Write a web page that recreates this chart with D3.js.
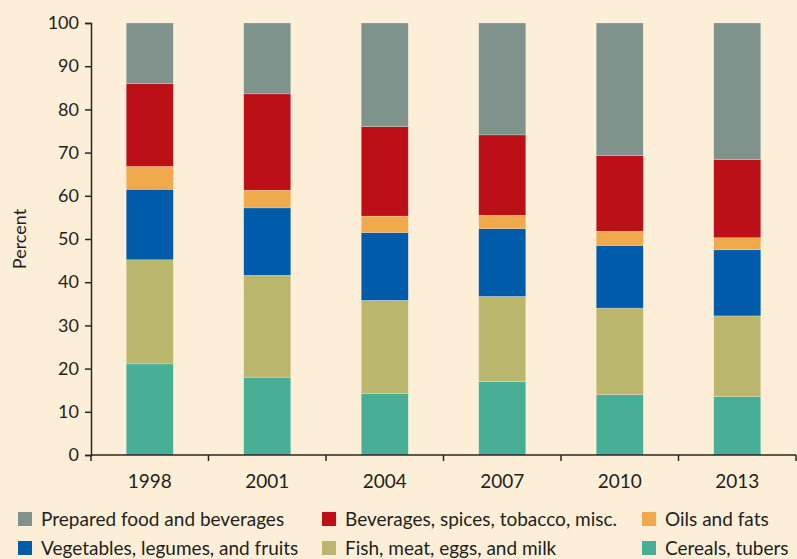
<!DOCTYPE html>
<html>
<head>
<meta charset="utf-8">
<script src="https://cdn.jsdelivr.net/npm/d3@7"></script>
<style>
  body { margin: 0; background: #fdeed7; }
  svg { display: block; }
  text { font-family: "Lato", "Open Sans", sans-serif; fill: #231f20; }
</style>
</head>
<body>
<svg width="797" height="559"></svg>
<script>
// years on the x axis
var years = ["1998", "2001", "2004", "2007", "2010", "2013"];

// series, bottom to top
var cereals    = [21.1, 18.0, 14.2, 17.0, 14.0, 13.5];
var fish       = [24.1, 23.6, 21.6, 19.7, 20.0, 18.7];
var vegetables = [16.3, 15.6, 15.7, 15.7, 14.5, 15.3];
var oils       = [5.3, 4.1, 3.8, 3.1, 3.3, 2.8];
var beverages  = [19.2, 22.3, 20.7, 18.6, 17.5, 18.1];
var prepared   = [14.0, 16.4, 24.0, 25.9, 30.7, 31.6];

var yTicks = [0, 10, 20, 30, 40, 50, 60, 70, 80, 90, 100];

var series = [
  {key: "cereals", name: "Cereals, tubers", values: cereals, color: "#49ae96"},
  {key: "fish", name: "Fish, meat, eggs, and milk", values: fish, color: "#bbb66d"},
  {key: "veg", name: "Vegetables, legumes, and fruits", values: vegetables, color: "#005baa"},
  {key: "oils", name: "Oils and fats", values: oils, color: "#f0a94b"},
  {key: "bev", name: "Beverages, spices, tobacco, misc.", values: beverages, color: "#bd0f18"},
  {key: "prep", name: "Prepared food and beverages", values: prepared, color: "#7f928c"}
];

var svg = d3.select("svg");

var x = d3.scaleBand()
    .domain(years)
    .range([91, 796])
    .padding(0);

var y = d3.scaleLinear()
    .domain([0, 100])
    .range([455, 23]);

// build rows for stacking
var rows = years.map(function(yr, i) {
  var r = {year: yr};
  series.forEach(function(s) { r[s.key] = s.values[i]; });
  return r;
});

var stack = d3.stack().keys(series.map(function(s) { return s.key; }));
var stacked = stack(rows);

var barW = x.bandwidth() * 0.4;

svg.append("g").selectAll("g")
  .data(stacked)
  .enter().append("g")
    .attr("fill", function(d, i) { return series[i].color; })
  .selectAll("rect")
  .data(function(d) { return d; })
  .enter().append("rect")
    .attr("x", function(d) { return x(d.data.year) + (x.bandwidth() - barW) / 2; })
    .attr("y", function(d) { return y(d[1]); })
    .attr("width", barW)
    .attr("height", function(d) { return y(d[0]) - y(d[1]); })
    .attr("stroke", "rgba(255,255,255,0.35)")
    .attr("stroke-width", 0.6);

// y axis
var yAxis = svg.append("g")
    .attr("transform", "translate(91,0)")
    .call(d3.axisLeft(y).tickValues(yTicks).tickSize(6).tickPadding(6));
yAxis.select(".domain").attr("stroke", "#2b2522").attr("stroke-width", 1.5);
yAxis.selectAll(".tick line").attr("stroke", "#2b2522").attr("stroke-width", 1.5);
yAxis.selectAll(".tick text")
    .style("font-size", "18px")
    .style("font-family", "Lato, sans-serif")
    .attr("fill", "#231f20");

// x axis: ticks at band boundaries, labels centred
var xg = svg.append("g").attr("transform", "translate(0,455)");
xg.append("line")
    .attr("x1", 91).attr("x2", 796)
    .attr("stroke", "#2b2522").attr("stroke-width", 1.5);
var bounds = years.map(function(yr) { return x(yr); }).concat([x.range()[1]]);
xg.selectAll(".xt").data(bounds).enter().append("line")
    .attr("x1", function(d) { return d; })
    .attr("x2", function(d) { return d; })
    .attr("y1", 0).attr("y2", 6)
    .attr("stroke", "#2b2522").attr("stroke-width", 1.5);
xg.selectAll(".xl").data(years).enter().append("text")
    .attr("x", function(d) { return x(d) + x.bandwidth() / 2; })
    .attr("y", 33)
    .attr("text-anchor", "middle")
    .style("font-size", "19px")
    .text(function(d) { return d; });

// y label
svg.append("text")
    .attr("transform", "translate(26,239) rotate(-90)")
    .attr("text-anchor", "middle")
    .style("font-size", "18px")
    .text("Percent");

// legend
var legendOrder = ["prep", "bev", "oils", "veg", "fish", "cereals"];
var colX = [18, 322, 642];
var rowY = [519, 548];
var leg = svg.append("g").selectAll("g")
  .data(legendOrder.map(function(k) { return series.find(function(s) { return s.key === k; }); }))
  .enter().append("g")
    .attr("transform", function(d, i) {
      return "translate(" + colX[i % 3] + "," + rowY[Math.floor(i / 3)] + ")";
    });
leg.append("rect")
    .attr("x", 0).attr("y", -7)
    .attr("width", 14).attr("height", 14)
    .attr("fill", function(d) { return d.color; });
leg.append("text")
    .attr("x", 23).attr("y", 7)
    .style("font-size", "19px")
    .text(function(d) { return d.name; });
</script>
</body>
</html>
